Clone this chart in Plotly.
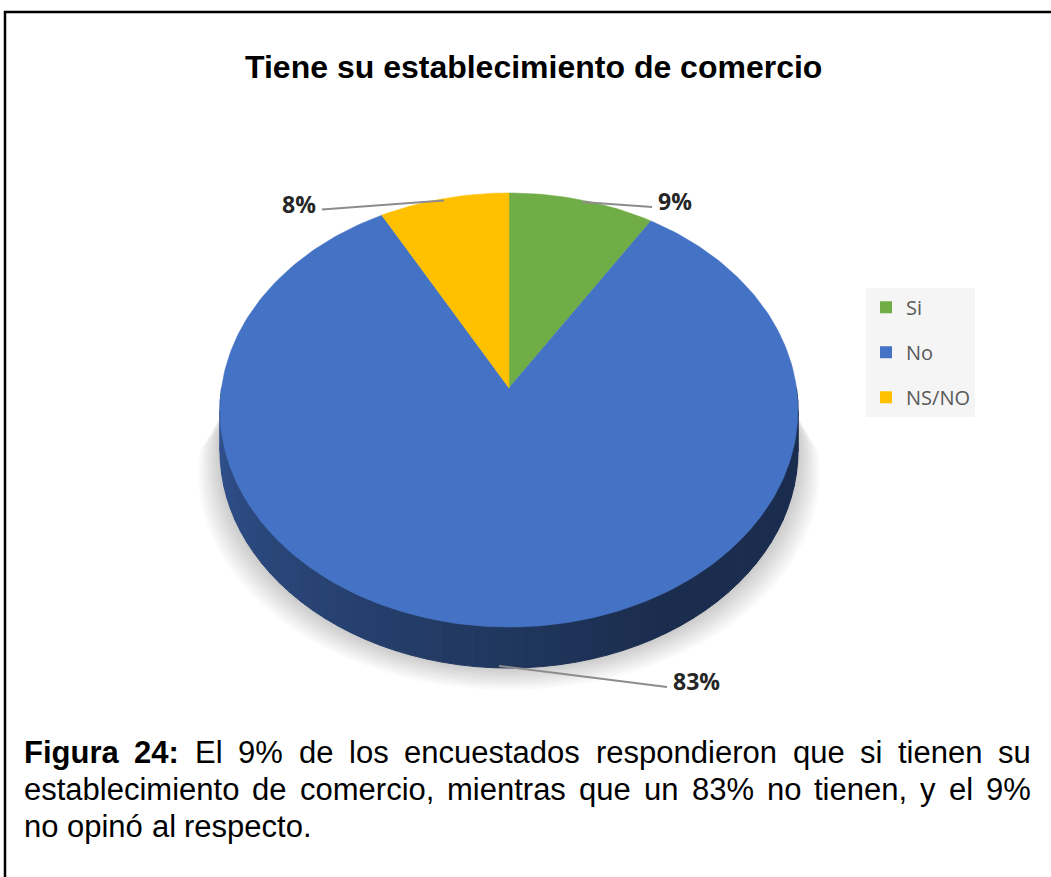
import math
import plotly.graph_objects as go

# ---- data ----
categories = ["Si", "No", "NS/NO"]
values = [9, 83, 8]
label_texts = ["9%", "83%", "8%"]
colors = ["#70AD47", "#4472C4", "#FFC000"]

title_text = "Tiene su establecimiento de comercio"
caption_lines = [
    [("Figura", True), ("24:", True), ("El", False), ("9%", False), ("de", False),
     ("los", False), ("encuestados", False), ("respondieron", False), ("que", False),
     ("si", False), ("tienen", False), ("su", False)],
    [(w, False) for w in "establecimiento de comercio, mientras que un 83% no tienen, y el 9%".split()],
    [(w, False) for w in "no opinó al respecto.".split()],
]
caption_justify = [True, True, False]

# ---- geometry (pixel space) ----
W, H = 1051, 877
CX, CY = 509.0, 388.0     # apex of slices
B, A, K = 287.5, 214.8, 0.1014
DEPTH = 41.0

def proj(theta):
    t = math.radians(theta)
    u, v = math.sin(t), math.cos(t)
    s = 1.0 / (1.0 + K * v)
    return CX + B * u * s, CY - A * v * s

def hex2rgb(h):
    h = h.lstrip("#")
    return tuple(int(h[i:i + 2], 16) for i in (0, 2, 4))

total = float(sum(values))
bounds = []
acc = 0.0
for v in values:
    a0 = acc / total * 360.0
    acc += v
    a1 = acc / total * 360.0
    bounds.append((a0, a1))

def slice_at(theta):
    th = theta % 360.0
    for i, (a0, a1) in enumerate(bounds):
        if a0 <= th < a1:
            return i
    return len(bounds) - 1

fig = go.Figure()

# ---- shadow ----
n_sh = 10
for j in range(n_sh):
    f = 1.0 + 0.075 * (j + 1) / n_sh
    off = 22.0 * (j + 1) / n_sh
    xs, ys = [CX - B * 0.99], [CY + 22]
    for d in range(270, 89, -3):
        x, y = proj(d)
        xs.append(CX + (x - CX) * f)
        ys.append(y + DEPTH + off)
    xs.append(CX + B * 0.99)
    ys.append(CY + 22)
    fig.add_trace(go.Scatter(x=xs, y=ys, fill="toself", mode="lines",
                             line=dict(width=0), fillcolor="rgba(0,0,0,0.021)",
                             hoverinfo="skip", showlegend=False))

# ---- side (front half) ----
step = 3
for d in range(90, 270, step):
    mid = d + step / 2.0
    idx = slice_at(mid)
    r, g, b = hex2rgb(colors[idx])
    tpos = (mid - 90.0) / 180.0  # 0 at right, 1 at left
    fac = 0.40 + 0.34 * max(0.0, tpos - 0.35) / 0.65
    col = "rgb(%d,%d,%d)" % (r * fac, g * fac, b * fac)
    x0, y0 = proj(d)
    x1, y1 = proj(d + step)
    fig.add_trace(go.Scatter(x=[x0, x1, x1, x0, x0],
                             y=[y0, y1, y1 + DEPTH, y0 + DEPTH, y0],
                             fill="toself", mode="lines",
                             line=dict(width=1, color=col), fillcolor=col,
                             hoverinfo="skip", showlegend=False))

# ---- top face wedges ----
for i, (a0, a1) in enumerate(bounds):
    xs, ys = [CX], [CY]
    nseg = max(2, int((a1 - a0) / 1.0))
    for s in range(nseg + 1):
        x, y = proj(a0 + (a1 - a0) * s / nseg)
        xs.append(x)
        ys.append(y)
    xs.append(CX)
    ys.append(CY)
    fig.add_trace(go.Scatter(x=xs, y=ys, fill="toself", mode="lines",
                             line=dict(width=0.5, color=colors[i]),
                             fillcolor=colors[i], name=categories[i],
                             hoverinfo="name", showlegend=False))

# ---- legend entries ----
for i, c in enumerate(categories):
    fig.add_trace(go.Scatter(x=[None], y=[None], mode="markers", name=c,
                             marker=dict(symbol="square", size=12, color=colors[i]),
                             legendgroup=c, showlegend=True))

# ---- data labels with leader lines ----
label_offsets = [(70, 5), (168, 21), (-122, 9)]
for i, (a0, a1) in enumerate(bounds):
    mid = (a0 + a1) / 2.0
    ax, ay = proj(mid)
    if 90 < mid < 270:
        ay += DEPTH - 2
    else:
        ay += 2
    dx, dy = label_offsets[i]
    ex, ey = ax + dx, ay + dy
    fig.add_trace(go.Scatter(x=[ax, ex], y=[ay, ey], mode="lines",
                             line=dict(color="#8c8c8c", width=2),
                             hoverinfo="skip", showlegend=False))
    fig.add_annotation(x=ex + (4 if dx > 0 else -4), y=ey - 6,
                       text="<b>%s</b>" % label_texts[i],
                       showarrow=False, xanchor="left" if dx > 0 else "right",
                       yanchor="middle",
                       font=dict(family="Open Sans", size=23, color="#262626"))

# ---- title ----
fig.add_annotation(x=533, y=67, text="<b>%s</b>" % title_text, showarrow=False,
                   xanchor="center", yanchor="middle",
                   font=dict(family="Liberation Sans, Arial", size=32, color="#000000"))

# ---- caption (justified, using Arial/Liberation Sans advance widths) ----
REG = {' ': 278, ',': 278, '.': 278, ':': 278, '%': 889, 'E': 667, 'F': 611,
       'a': 556, 'b': 556, 'c': 500, 'd': 556, 'e': 556, 'f': 278, 'g': 556,
       'h': 556, 'i': 222, 'j': 222, 'k': 500, 'l': 222, 'm': 833, 'n': 556,
       'o': 556, 'p': 556, 'q': 556, 'r': 333, 's': 500, 't': 278, 'u': 556,
       'v': 500, 'w': 722, 'x': 500, 'y': 500, 'z': 500, 'ó': 556}
BOLD = {' ': 278, ':': 333, 'F': 611, 'i': 278, 'g': 611, 'u': 611, 'r': 389, 'a': 556}
for dch in "0123456789":
    REG[dch] = 556
    BOLD[dch] = 556

CAP_SIZE = 31
CAP_X0, CAP_X1 = 23, 1030
cap_y = [752, 789, 826]

def word_w(w, bold):
    tbl = BOLD if bold else REG
    return sum(tbl.get(ch, 556) for ch in w) / 1000.0 * CAP_SIZE

for words, yy, just in zip(caption_lines, cap_y, caption_justify):
    widths = [word_w(w, b) for w, b in words]
    if just and len(words) > 1:
        gap = (CAP_X1 - CAP_X0 - sum(widths)) / (len(words) - 1)
    else:
        gap = REG[' '] / 1000.0 * CAP_SIZE
    x = CAP_X0
    for (w, b), ww in zip(words, widths):
        fig.add_annotation(x=x, y=yy, text=("<b>%s</b>" % w) if b else w,
                           showarrow=False, xanchor="left", yanchor="middle",
                           xshift=-1,
                           font=dict(family="Liberation Sans, Arial", size=CAP_SIZE,
                                     color="#000000"))
        x += ww + gap

# ---- border ----
fig.add_shape(type="rect", x0=5, y0=12, x1=W + 20, y1=H + 20,
              line=dict(color="#000000", width=2.5), layer="above")

fig.update_layout(
    width=W, height=H, autosize=False,
    margin=dict(l=0, r=0, t=0, b=0),
    paper_bgcolor="white", plot_bgcolor="white",
    xaxis=dict(range=[0, W], visible=False, fixedrange=True),
    yaxis=dict(range=[H, 0], visible=False, fixedrange=True),
    legend=dict(x=0.824, y=0.672, xanchor="left", yanchor="top",
                bgcolor="#f5f5f5", tracegroupgap=16,
                font=dict(family="Open Sans", size=20, color="#595959"),
                itemsizing="constant"),
    showlegend=True,
)

fig.write_html("out.html", config={"displayModeBar": False},
               post_script="document.body.style.margin='0px';")
